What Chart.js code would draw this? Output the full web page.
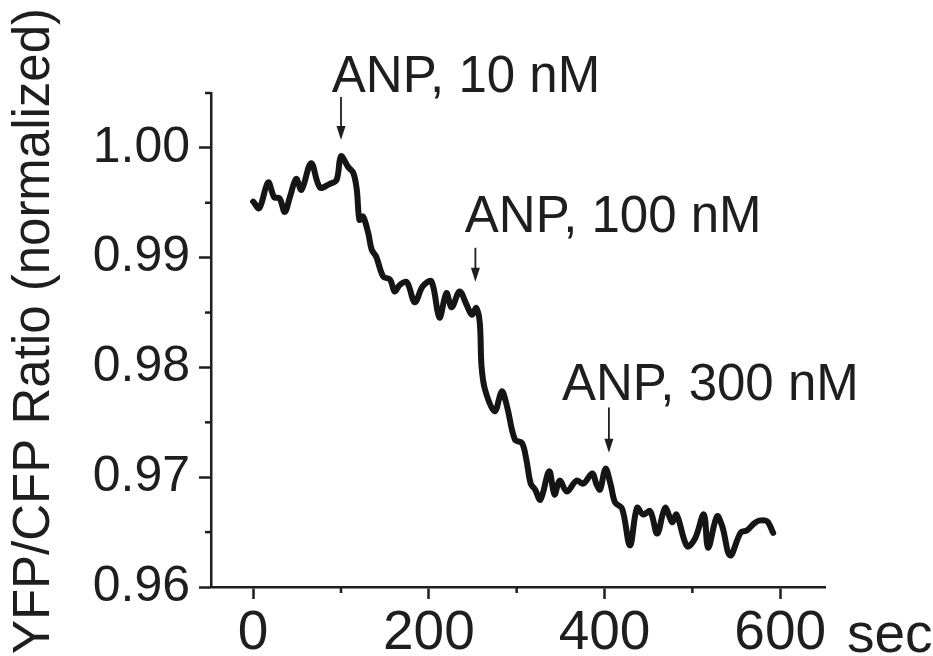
<!DOCTYPE html>
<html>
<head>
<meta charset="utf-8">
<script src="https://cdn.jsdelivr.net/npm/chart.js@4/dist/chart.umd.min.js"></script>
<style>
  html, body { margin: 0; padding: 0; background: #ffffff; }
  canvas { display: block; }
</style>
</head>
<body>
<canvas id="c" width="933" height="656"></canvas>
<script>
// ---- data ----
const timeSec = [0, 7, 17, 24, 30, 36, 42, 49, 55, 66, 76, 87, 95, 100, 108, 114, 118, 121, 125, 131,
  135, 140, 148, 156, 161, 167, 175, 184, 193, 203, 212, 220, 226, 235, 243, 249, 254, 258, 260, 264,
  275, 283, 289, 298, 306, 311, 316, 321, 327, 337, 343, 349, 357, 368, 376, 386, 391, 395, 401, 407,
  412, 420, 429, 437, 444, 452, 460, 469, 477, 482, 494, 503, 513, 518, 528, 534, 543, 555, 562, 570,
  576, 585, 592];
const ratio = [0.99511, 0.99451, 0.99686, 0.99549, 0.99542, 0.99417, 0.99557, 0.99718, 0.99618, 0.99861,
  0.99640, 0.99672, 0.99709, 0.99923, 0.99827, 0.99772, 0.99618, 0.99345, 0.99375, 0.99224,
  0.99072, 0.99011, 0.98829, 0.98799, 0.98692, 0.98753, 0.98776, 0.98594, 0.98738, 0.98783,
  0.98453, 0.98678, 0.98548, 0.98692, 0.98571, 0.98480, 0.98541, 0.98404, 0.98009, 0.97797,
  0.97600, 0.97782, 0.97645, 0.97342, 0.97312, 0.97160, 0.96942, 0.96887, 0.96796, 0.97054,
  0.96842, 0.96969, 0.96869, 0.96969, 0.96942, 0.97033, 0.96933, 0.96887, 0.97078, 0.96933,
  0.96769, 0.96714, 0.96378, 0.96721, 0.96660, 0.96690, 0.96487, 0.96721, 0.96591, 0.96660,
  0.96371, 0.96441, 0.96660, 0.96357, 0.96644, 0.96553, 0.96287, 0.96496, 0.96514, 0.96578,
  0.96605, 0.96599, 0.96493];

const xTicks = [0, 200, 400, 600];
const xMinorTicks = [100, 300, 500];
const yTicks = [0.96, 0.97, 0.98, 0.99, 1.00];
const yMinorTicks = [0.965, 0.975, 0.985, 0.995, 1.005];

const yTitle = 'YFP/CFP Ratio (normalized)';
const xUnit = 'sec';

// ANP additions (time, label)
const doseTimes = [100, 253, 405];
const doseLabels = ['ANP, 10 nM', 'ANP, 100 nM', 'ANP, 300 nM'];

// ---- annotation layout (in axis units) ----
const arrowTopVal = [1.00464, 0.99090, 0.97634];
const arrowTipVal = [1.00073, 0.98780, 0.97224];
const labelLeftT = [89.5, 241, 351.6];
const labelBaseVal = [1.00510, 0.99235, 0.97706];

const INK = '#1e1e1e';
const FONT = '"Liberation Sans", Arial, sans-serif';

const extras = {
  id: 'extras',
  afterDraw(chart) {
    const ctx = chart.ctx;
    const xs = chart.scales.x, ys = chart.scales.y;
    const area = chart.chartArea;
    ctx.save();
    ctx.strokeStyle = INK;
    ctx.fillStyle = INK;
    // minor ticks
    ctx.lineWidth = 2.5;
    ctx.lineCap = 'butt';
    xMinorTicks.forEach(v => {
      const px = xs.getPixelForValue(v);
      ctx.beginPath(); ctx.moveTo(px, area.bottom); ctx.lineTo(px, area.bottom + 6); ctx.stroke();
    });
    yMinorTicks.forEach(v => {
      const py = ys.getPixelForValue(v);
      ctx.beginPath(); ctx.moveTo(area.left, py); ctx.lineTo(area.left - 6, py); ctx.stroke();
    });
    // y axis title
    ctx.save();
    ctx.translate(35, (area.top + area.bottom) / 2 - 9);
    ctx.rotate(-Math.PI / 2);
    ctx.font = '51px ' + FONT;
    ctx.textAlign = 'center';
    ctx.textBaseline = 'middle';
    ctx.fillText(yTitle, 0, 0);
    ctx.restore();
    // x unit
    ctx.font = '55px ' + FONT;
    ctx.textAlign = 'left';
    ctx.textBaseline = 'alphabetic';
    ctx.fillText(xUnit, 847, 652);
    // annotations
    ctx.font = '51px ' + FONT;
    doseTimes.forEach((t, i) => {
      const px = xs.getPixelForValue(t);
      const top = ys.getPixelForValue(arrowTopVal[i]);
      const tip = ys.getPixelForValue(arrowTipVal[i]);
      ctx.lineWidth = 1.8;
      ctx.beginPath(); ctx.moveTo(px, top); ctx.lineTo(px, tip - 8); ctx.stroke();
      ctx.beginPath();
      ctx.moveTo(px - 4.5, tip - 14);
      ctx.lineTo(px + 4.5, tip - 14);
      ctx.lineTo(px, tip);
      ctx.closePath(); ctx.fill();
      ctx.fillText(doseLabels[i], xs.getPixelForValue(labelLeftT[i]), ys.getPixelForValue(labelBaseVal[i]));
    });
    ctx.restore();
  }
};

new Chart(document.getElementById('c'), {
  type: 'line',
  data: {
    datasets: [{
      data: timeSec.map((t, i) => ({ x: t, y: ratio[i] })),
      borderColor: '#151515',
      borderWidth: 6,
      pointRadius: 0,
      tension: 0.35,
      borderJoinStyle: 'round',
      borderCapStyle: 'round',
      fill: false
    }]
  },
  options: {
    responsive: false,
    animation: false,
    devicePixelRatio: 1,
    layout: { padding: { top: 93, right: 108, left: 0, bottom: 0 } },
    plugins: { legend: { display: false }, tooltip: { enabled: false } },
    scales: {
      x: {
        type: 'linear',
        min: -48, max: 651,
        afterBuildTicks: s => { s.ticks = xTicks.map(v => ({ value: v })); },
        afterFit: s => { s.height = 69; },
        grid: { drawOnChartArea: false, drawTicks: true, tickLength: 12, tickColor: INK, tickWidth: 2.5 },
        border: { display: true, color: INK, width: 2.5 },
        ticks: { color: INK, font: { family: FONT, size: 55 }, padding: 2, maxRotation: 0, autoSkip: false,
                 callback: v => String(v) }
      },
      y: {
        type: 'linear',
        min: 0.96, max: 1.005,
        afterBuildTicks: s => { s.ticks = yTicks.map(v => ({ value: v })); },
        afterFit: s => { s.width = 211; },
        grid: { drawOnChartArea: false, drawTicks: true, tickLength: 12, tickColor: INK, tickWidth: 2.5 },
        border: { display: true, color: INK, width: 2.5 },
        ticks: { color: INK, font: { family: FONT, size: 50 }, padding: 9, autoSkip: false,
                 callback: v => Number(v).toFixed(2) }
      }
    }
  },
  plugins: [extras]
});
</script>
</body>
</html>
